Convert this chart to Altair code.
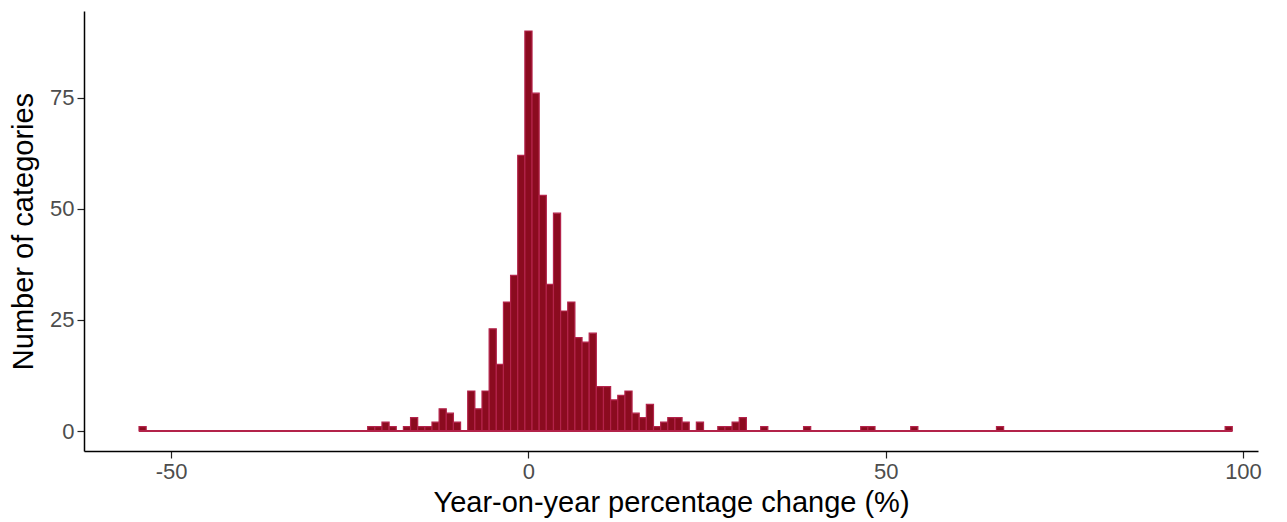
import altair as alt
import pandas as pd

# Histogram bins (bin width 1, centred on integers); only non-empty bins listed
bin_centers = [-54, -22, -21, -20, -19, -17, -16, -15, -14, -13, -12, -11, -10, -8, -7,
               -6, -5, -4, -3, -2, -1, 0, 1, 2, 3, 4, 5, 6, 7, 8, 9, 10, 11, 12, 13,
               14, 15, 16, 17, 18, 19, 20, 21, 22, 24, 27, 28, 29, 30, 33, 39, 47, 48,
               54, 66, 98]
counts = [1, 1, 1, 2, 1, 1, 3, 1, 1, 2, 5, 4, 2, 9, 5,
          9, 23, 15, 29, 35, 62, 90, 76, 53, 33, 49, 27, 29, 21, 20, 22, 10, 10, 7, 8,
          9, 4, 3, 6, 1, 2, 3, 3, 2, 2, 1, 1, 2, 3, 1, 1, 1, 1,
          1, 1, 1]
bin_width = 1.0
range_edges = [-54.5, 98.5]  # first and last bin edges (empty bins drawn as baseline)
x_ticks = [-50, 0, 50, 100]
y_ticks = [0, 25, 50, 75]

df = pd.DataFrame({
    "x0": [c - bin_width / 2 for c in bin_centers],
    "x1": [c + bin_width / 2 for c in bin_centers],
    "n": counts,
})
base_df = pd.DataFrame({"x0": [range_edges[0]], "x1": [range_edges[1]], "n": [0]})

FILL = "#8B0B1F"
EDGE = "#B3234A"
FONT = "Liberation Sans"

xscale = alt.Scale(domain=[-62.2, 102.1], nice=False, zero=False)
yscale = alt.Scale(domain=[-4.5, 94.5], nice=False, zero=False)

x_enc = alt.X("x0:Q", scale=xscale,
              axis=alt.Axis(values=x_ticks, title="Year-on-year percentage change (%)",
                            labelExpr="toString(datum.value)", titlePadding=6))
y_enc = alt.Y("n:Q", scale=yscale,
              axis=alt.Axis(values=y_ticks, title="Number of categories", titlePadding=11))

bars = alt.Chart(df).mark_rect(fill=FILL, stroke=EDGE, strokeWidth=1.2).encode(
    x=x_enc,
    x2="x1:Q",
    y=y_enc,
    y2=alt.datum(0),
)

baseline = alt.Chart(base_df).mark_rule(color=EDGE, strokeWidth=1.8).encode(
    x=x_enc,
    x2="x1:Q",
    y=y_enc,
)

chart = (
    alt.layer(bars, baseline)
    .properties(
        width=1174,
        height=440,
        autosize=alt.AutoSizeParams(type="none"),
        padding={"left": 76, "top": 3, "right": 20, "bottom": 70},
        background="white",
    )
    .configure_view(stroke=None)
    .configure_axis(
        grid=False,
        domainColor="black",
        domainWidth=1.5,
        tickColor="#222222",
        tickWidth=1.2,
        tickSize=7,
        labelColor="#4d4d4d",
        labelFont=FONT,
        labelFontSize=22,
        labelPadding=3,
        titleFont=FONT,
        titleFontSize=29,
        titleFontWeight="normal",
        titleColor="black",
    )
)

chart.save("out.html", embed_options={"renderer": "svg", "actions": False})
